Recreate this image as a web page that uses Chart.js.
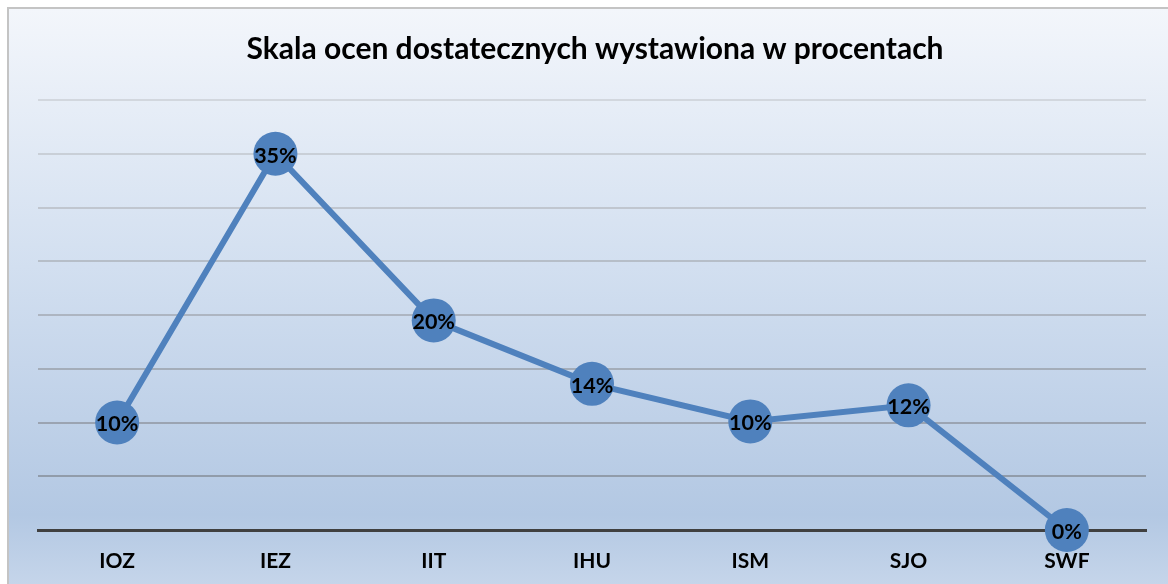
<!DOCTYPE html>
<html>
<head>
<meta charset="utf-8">
<script src="https://cdn.jsdelivr.net/npm/chart.js@4/dist/chart.umd.min.js"></script>
<style>
html,body{margin:0;padding:0;background:#fff;}
#wrap{position:absolute;left:0;top:0;width:1168px;height:584px;}
</style>
</head>
<body>
<div id="wrap"><canvas id="c" width="1168" height="584"></canvas></div>
<script>
const categories = ['IOZ','IEZ','IIT','IHU','ISM','SJO','SWF'];
const values = [10, 35, 19.5, 13.6, 10.1, 11.6, 0];
const titleText = 'Skala ocen dostatecznych wystawiona w procentach';

const bgPlugin = {
  id: 'bg',
  beforeDraw(chart) {
    const ctx = chart.ctx;
    const W = chart.width, H = chart.height;
    ctx.save();
    ctx.fillStyle = '#ffffff';
    ctx.fillRect(0, 0, W, H);
    const g = ctx.createLinearGradient(0, 9, 0, H);
    g.addColorStop(0, '#f3f6fb');
    g.addColorStop(0.45, '#d2dff0');
    g.addColorStop(0.88, '#b3c8e3');
    g.addColorStop(1, '#c5d5ea');
    ctx.fillStyle = g;
    ctx.fillRect(9, 9, W - 9, H - 9);
    ctx.fillStyle = '#c4c4c4';
    ctx.fillRect(7, 7, W - 7, 2);
    ctx.fillRect(7, 7, 2, H - 7);
    ctx.restore();
  }
};

const labelPlugin = {
  id: 'pointLabels',
  afterDatasetsDraw(chart) {
    const ctx = chart.ctx;
    const meta = chart.getDatasetMeta(0);
    ctx.save();
    ctx.font = 'bold 21.5px Lato';
    ctx.fillStyle = '#000';
    ctx.textAlign = 'center';
    ctx.textBaseline = 'middle';
    meta.data.forEach((pt, i) => {
      ctx.fillText(Math.round(values[i]) + '%', pt.x, pt.y + 2);
    });
    ctx.restore();
  }
};

function gridColor(ctx) {
  const v = ctx.tick ? ctx.tick.value : 0;
  const t = v / 40;
  const c1 = [136, 147, 163], c0 = [210, 215, 222];
  const c = c1.map((a, k) => Math.round(a + (c0[k] - a) * t));
  return 'rgb(' + c.join(',') + ')';
}

new Chart(document.getElementById('c'), {
  type: 'line',
  data: {
    labels: categories,
    datasets: [{
      data: values,
      borderColor: '#4f81bd',
      backgroundColor: '#4f81bd',
      borderWidth: 6,
      pointRadius: 22,
      pointHoverRadius: 22,
      pointBackgroundColor: '#4f81bd',
      pointBorderColor: '#4f81bd',
      pointBorderWidth: 0,
      tension: 0,
      clip: false
    }]
  },
  options: {
    responsive: false,
    animation: false,
    events: [],
    layout: { padding: { left: 38, right: 16, top: 0, bottom: 0 } },
    plugins: {
      legend: { display: false },
      tooltip: { enabled: false },
      title: {
        display: true,
        text: titleText,
        color: '#000',
        font: { family: 'Lato', size: 30, weight: 'bold', lineHeight: 1.2 },
        padding: { top: 31, bottom: 33 }
      }
    },
    scales: {
      x: {
        type: 'category',
        offset: true,
        grid: { display: false, drawTicks: false },
        border: { display: true, color: '#404040', width: 3 },
        ticks: { color: '#000', font: { family: 'Lato', size: 21, weight: 'bold' }, padding: 19, maxRotation: 0 },
        afterFit(scale) { scale.height = 54; }
      },
      y: {
        min: 0, max: 40,
        ticks: { display: false, stepSize: 5 },
        grid: { color: gridColor, lineWidth: 2, drawTicks: false },
        border: { display: false },
        afterFit(scale) { scale.width = 0; }
      }
    }
  },
  plugins: [bgPlugin, labelPlugin]
});
</script>
</body>
</html>
